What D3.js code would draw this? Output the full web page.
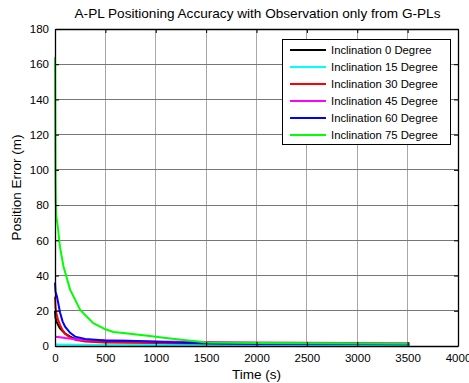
<!DOCTYPE html>
<html><head><meta charset="utf-8">
<script src="https://d3js.org/d3.v7.min.js"></script>
<style>body{margin:0;background:#fff}svg{display:block}text{font-family:"Liberation Sans",Arial,sans-serif;fill:#000}</style>
</head><body><svg id="c" width="469" height="383"></svg>
<script>
const title = "A-PL Positioning Accuracy with Observation only from G-PLs";
const xLabel = "Time (s)";
const yLabel = "Position Error (m)";
const xTicks = [0,500,1000,1500,2000,2500,3000,3500,4000];
const yTicks = [0,20,40,60,80,100,120,140,160,180];
const seriesNames = ["Inclination 0 Degree","Inclination 15 Degree","Inclination 30 Degree","Inclination 45 Degree","Inclination 60 Degree","Inclination 75 Degree"];
const seriesColors = ["#000000","#00ffff","#ff0000","#ff00ff","#0000ff","#00ff00"];
// [time, error]
const incl0 = [[0,20],[5,16],[15,14],[30,12],[50,10],[75,8.5],[100,7],[150,5.3],[200,4],[300,3],[400,2.6],[600,2.3],[1000,2],[1500,1.6],[2000,1.4],[2500,1.3],[3000,1.2],[3520,1.1]];
const incl15 = [[0,0.8],[200,0.7],[500,0.7],[1000,0.6],[2000,0.6],[3000,0.6],[3520,0.6]];
const incl30 = [[0,28],[5,22],[15,18],[30,15],[50,12],[75,9],[100,7],[150,4.8],[200,3.5],[300,2.6],[500,2],[800,1.8],[1200,1.6],[1500,1.4],[2000,1.3],[3000,1.2],[3520,1.1]];
const incl45 = [[0,5.3],[50,5],[100,4.5],[200,3.8],[300,3.4],[500,3.1],[700,3],[1000,2.6],[1500,2.3],[2000,2],[2500,1.9],[3000,1.7],[3520,1.5]];
const incl60 = [[0,36],[5,31],[20,28],[50,19],[75,14],[100,11],[150,7.5],[200,5.3],[300,4],[500,3.1],[800,2.8],[1000,2.4],[1300,1.8],[1500,1.5],[2000,1.2],[3000,1.1],[3520,1]];
const incl75 = [[0,164],[2,130],[5,94],[8,82],[12,74],[25,69],[50,56],[85,45],[150,32],[250,20.5],[380,13],[500,9.5],[580,8],[700,7.2],[940,5.7],[1100,4.6],[1300,3.3],[1440,2.4],[1500,2],[2000,1.7],[2500,1.5],[3000,1.4],[3520,1.3]];
const seriesData = [incl0, incl15, incl30, incl45, incl60, incl75];

const svg = d3.select("#c");
const L=55, R=458, T=29, B=346;
const x = d3.scaleLinear().domain([0,4000]).range([L,R]);
const y = d3.scaleLinear().domain([0,180]).range([B,T]);

// grid
const g = svg.append("g");
g.selectAll("line.vg").data(xTicks.slice(1,-1)).join("line")
  .attr("x1",d=>x(d)).attr("x2",d=>x(d)).attr("y1",T).attr("y2",B)
  .attr("stroke","#a8a8a8").attr("stroke-width",1).attr("shape-rendering","crispEdges");
g.selectAll("line.hg").data(yTicks.slice(1,-1)).join("line")
  .attr("y1",d=>y(d)).attr("y2",d=>y(d)).attr("x1",L).attr("x2",R)
  .attr("stroke","#777").attr("stroke-width",1).attr("shape-rendering","crispEdges");

// lines
const line = d3.line().x(d=>x(d[0])).y(d=>y(d[1]));
seriesData.forEach((s,i)=>{
  svg.append("path").datum(s).attr("d",line).attr("fill","none")
    .attr("stroke",seriesColors[i]).attr("stroke-width",2);
});

// axes
const fmt = d3.format("d");
const ax = svg.append("g").attr("transform",`translate(0,${B})`)
  .call(d3.axisBottom(x).tickValues(xTicks).tickFormat(fmt).tickSizeInner(-4).tickSizeOuter(0).tickPadding(8));
const ay = svg.append("g").attr("transform",`translate(${L},0)`)
  .call(d3.axisLeft(y).tickValues(yTicks).tickFormat(fmt).tickSizeInner(-4).tickSizeOuter(0).tickPadding(6));
const axT = svg.append("g").attr("transform",`translate(0,${T})`)
  .call(d3.axisTop(x).tickValues(xTicks).tickFormat("").tickSizeInner(-4).tickSizeOuter(0));
const ayR = svg.append("g").attr("transform",`translate(${R},0)`)
  .call(d3.axisRight(y).tickValues(yTicks).tickFormat("").tickSizeInner(-4).tickSizeOuter(0));
[ax,ay,axT,ayR].forEach(a=>{
  a.selectAll("path").attr("stroke","#000").attr("stroke-width",1.3);
  a.selectAll("line").attr("stroke","#000");
  a.selectAll("text").attr("font-size","11.5px").attr("font-family","Liberation Sans, Arial, sans-serif").attr("fill","#000");
});

// title and labels
svg.append("text").attr("x",(L+R)/2+1).attr("y",18).attr("text-anchor","middle").attr("font-size","13.6px").text(title);
svg.append("text").attr("x",(L+R)/2).attr("y",379).attr("text-anchor","middle").attr("font-size","13.5px").text(xLabel);
svg.append("text").attr("transform",`translate(21,${(T+B)/2}) rotate(-90)`).attr("text-anchor","middle").attr("font-size","13.5px").text(yLabel);

// legend
const lg = svg.append("g");
lg.append("rect").attr("x",282.5).attr("y",39.5).attr("width",168).attr("height",105)
  .attr("fill","#fff").attr("stroke","#000").attr("stroke-width",1);
seriesNames.forEach((n,i)=>{
  const yy = 50 + i*17;
  lg.append("line").attr("x1",290).attr("x2",326).attr("y1",yy).attr("y2",yy)
    .attr("stroke",seriesColors[i]).attr("stroke-width",2);
  lg.append("text").attr("x",331).attr("y",yy+4).attr("font-size","11.3px").text(n);
});
</script></body></html>
